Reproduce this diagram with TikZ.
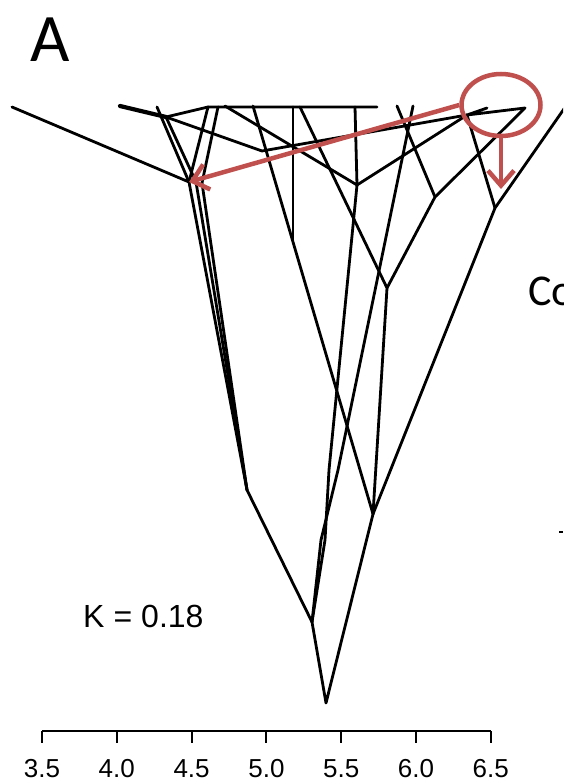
\documentclass[tikz,border=0pt]{standalone}
\usepackage{fontspec}
\setmainfont{Carlito}
\newfontfamily\rfont{Liberation Sans}
\usetikzlibrary{arrows.meta,shapes.geometric}
\definecolor{migred}{HTML}{C0504D}
\begin{document}
\begin{tikzpicture}[x=1pt,y=-1pt,br/.style={line width=2.8pt,line join=round,line cap=round},
  mig/.style={migred,line width=4.5pt,-{Straight Barb[length=15pt,width=26pt]}},ax/.style={line width=2pt}]
\clip (0,0) rectangle (563,781);
% tree vertices
\coordinate (rt) at (326,703);\coordinate (a) at (312,622);\coordinate (b) at (373,514);
\coordinate (lb) at (247,490);\coordinate (l1) at (189,182);\coordinate (l2) at (196,182);\coordinate (l3) at (202,183);
\coordinate (c1) at (325,540);\coordinate (c2) at (321,540);\coordinate (c3) at (329,470);\coordinate (d3) at (338,470);
\coordinate (m) at (357,185);\coordinate (e) at (387,288);\coordinate (f) at (435,197);\coordinate (g) at (495,208);
\coordinate (h) at (293,243);\coordinate (v) at (262,151);\coordinate (w) at (166,117);
% tips
\coordinate (t1) at (12,107);\coordinate (t2) at (157,107);\coordinate (t3) at (208,107);\coordinate (t4) at (218,107);
\coordinate (t5) at (120,106);\coordinate (t6) at (225,106);\coordinate (t7) at (253,106);\coordinate (t8) at (293,107);
\coordinate (t9) at (300,107);\coordinate (t10) at (355,107);\coordinate (t11) at (397,106);\coordinate (t12) at (413,106);
\coordinate (t13) at (467,115);\coordinate (t14) at (525,108);\coordinate (t15) at (566,106);\coordinate (t16) at (487,108);
\coordinate (tq) at (377,107);
% edges
\draw[br] (a)--(rt)--(b);
\draw[br] (a)--(lb)--(l1);\draw[br] (lb)--(l2);\draw[br] (lb)--(l3);
\draw[br] (t1)--(l1)--(t2);\draw[br] (l1)--(t3);\draw[br] (l2)--(w);\draw[br] (l3)--(t4);
\draw[br,line width=4.2pt] (t5)--(w);\draw[br] (w)--(t3)--(tq);\draw[br] (w)--(v)--(t13);
\draw[br] (a)--(c1)--(c3)--(m);\draw[br] (a)--(c2)--(d3)--(t12);
\draw[br] (t6)--(m)--(t10);\draw[br] (m)--(t13);
\draw[br] (b)--(t7);\draw[br] (h)--(t8);
\draw[br] (t9)--(e)--(b);\draw[br] (e)--(f)--(t11);\draw[br] (f)--(t14)--(t13)--(t16);
\draw[br] (b)--(g)--(t15);\draw[br] (g)--(t13);
% migration mark
\node[draw=migred,line width=4.5pt,ellipse,minimum width=79pt,minimum height=62pt,inner sep=0pt] (hl) at (501,105) {};
\coordinate (gtip) at (501,189);
\draw[mig] (hl.west)--(l1);\draw[mig] (hl.south)--(gtip);
% axis
\foreach \v [count=\i from 0] in {3.5,4.0,4.5,5.0,5.5,6.0,6.5}{
  \coordinate (tk\i) at (42+74.8*\i,731);
  \draw[ax] (tk\i)--++(0,12);
  \node[anchor=base,inner sep=0pt] at (42+74.8*\i,777) {\rfont\fontsize{26}{26}\selectfont\v};}
\draw[ax] (tk0)--(tk6);
% labels
\node (lab) at (50,40) {\fontsize{68}{68}\selectfont A};
\node[anchor=base west,inner sep=0pt] (co) at (528,305) {\fontsize{44}{44}\selectfont Co};
\node[anchor=base west,inner sep=0pt] (kv) at (83,627) {\rfont\fontsize{32}{32}\selectfont K\hspace{9pt}=\hspace{9pt}0.18};
\draw[line width=1.5pt] (559,532)--(563,532);
\end{tikzpicture}
\end{document}
